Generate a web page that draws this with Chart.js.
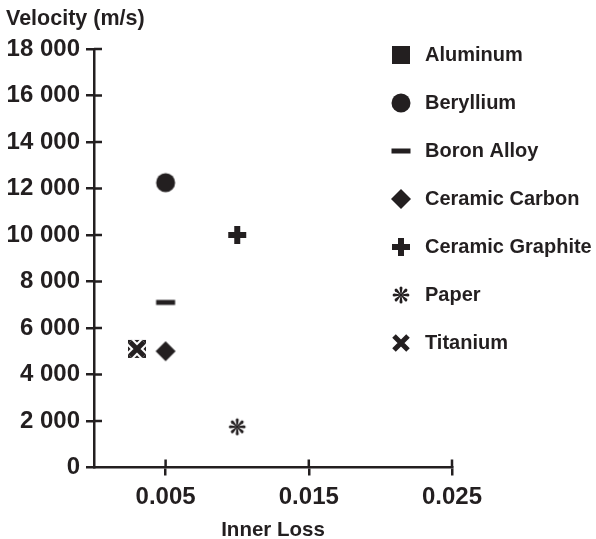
<!DOCTYPE html>
<html>
<head>
<meta charset="utf-8">
<script src="https://cdn.jsdelivr.net/npm/chart.js@4/dist/chart.umd.min.js"></script>
<style>
  html, body { margin: 0; padding: 0; background: #fff; }
  canvas { display: block; }
</style>
</head>
<body>
<canvas id="chart" width="596" height="539"></canvas>
<script>
const materials = ['Aluminum', 'Beryllium', 'Boron Alloy', 'Ceramic Carbon', 'Ceramic Graphite', 'Paper', 'Titanium'];
const innerLoss = [0.003, 0.005, 0.005, 0.005, 0.010, 0.010, 0.003];
const velocity = [5100, 12250, 7100, 5000, 10000, 1750, 5100];
const xTicks = [0.005, 0.015, 0.025];
const yMax = 18000;
const yStep = 2000;

const symbols = ['square', 'circle', 'dash', 'diamond', 'plus', 'asterisk', 'cross'];

const ink = '#231f20';
const family = "'Liberation Sans', Arial, sans-serif";

Chart.defaults.color = ink;
Chart.defaults.font.family = family;

// marker glyphs, used both in the plot and in the legend
function makeSymbol(kind) {
    const s = 26;
    const c = document.createElement('canvas');
    c.width = c.height = s;
    const g = c.getContext('2d');
    g.translate(s / 2, s / 2);
    g.fillStyle = ink;
    g.strokeStyle = ink;
    switch (kind) {
        case 'square':
            g.fillRect(-9, -9, 18, 18);
            break;
        case 'circle':
            g.beginPath();
            g.arc(0, 0, 9.5, 0, Math.PI * 2);
            g.fill();
            break;
        case 'dash':
            g.fillRect(-9.5, -2.5, 19, 5);
            break;
        case 'diamond':
            g.beginPath();
            g.moveTo(0, -10);
            g.lineTo(10, 0);
            g.lineTo(0, 10);
            g.lineTo(-10, 0);
            g.closePath();
            g.fill();
            break;
        case 'plus':
            g.fillRect(-9, -3, 18, 6);
            g.fillRect(-3, -9, 6, 18);
            break;
        case 'asterisk':
            for (let i = 0; i < 8; i++) {
                g.save();
                g.rotate(i * Math.PI / 4 - Math.PI / 2);
                g.beginPath();
                g.moveTo(0, -0.4);
                g.lineTo(6.9, -1.5);
                g.arc(6.9, 0, 1.5, -Math.PI / 2, Math.PI / 2);
                g.lineTo(0, 0.4);
                g.closePath();
                g.fill();
                g.restore();
            }
            break;
        case 'cross':
            g.beginPath();
            g.moveTo(-7, -7); g.lineTo(7, 7);
            g.moveTo(7, -7); g.lineTo(-7, 7);
            g.strokeStyle = '#fff';
            g.lineWidth = 9;
            g.stroke();
            g.strokeStyle = ink;
            g.lineWidth = 5;
            g.stroke();
            break;
    }
    return c;
}

// Titanium sits on top of Aluminum in the reference
const datasets = materials.map((name, i) => ({
    label: name,
    data: [{ x: innerLoss[i], y: velocity[i] }],
    pointStyle: makeSymbol(symbols[i]),
    pointRadius: 9,
    backgroundColor: ink,
    borderColor: ink,
    order: symbols[i] === 'cross' ? -1 : 0
}));

function thousands(v) {
    return String(v).replace(/\B(?=(\d{3})+(?!\d))/g, ' ');
}

// ticks in the reference cross the axis line, so draw the inner half too
const innerTicks = {
    id: 'innerTicks',
    beforeDatasetsDraw(chart) {
        const { ctx, chartArea, scales: { x, y } } = chart;
        ctx.save();
        ctx.strokeStyle = ink;
        ctx.lineWidth = 2.5;
        ctx.beginPath();
        x.ticks.forEach(t => {
            const px = x.getPixelForValue(t.value);
            ctx.moveTo(px, chartArea.bottom);
            ctx.lineTo(px, chartArea.bottom - 8);
        });
        y.ticks.forEach(t => {
            if (t.value === 0) return;
            const py = y.getPixelForValue(t.value);
            ctx.moveTo(chartArea.left, py);
            ctx.lineTo(chartArea.left + 8, py);
        });
        ctx.stroke();
        ctx.restore();
    }
};

// the legend sits over the upper right of the plot, not beside it
const legendSpot = {
    id: 'legendSpot',
    afterLayout(chart) {
        const l = chart.legend;
        l.left = 359;
        l.top = 17;
        l.right = chart.width;
        l.bottom = chart.height;
        l.width = l.right - l.left;
        l.height = l.bottom - l.top;
    }
};

new Chart(document.getElementById('chart'), {
    type: 'scatter',
    data: { datasets },
    options: {
        responsive: false,
        animation: false,
        layout: {
            padding: { left: 6, right: 143, top: 0, bottom: 0 }
        },
        scales: {
            x: {
                type: 'linear',
                min: 0,
                max: xTicks[xTicks.length - 1],
                afterBuildTicks: scale => {
                    scale.ticks = xTicks.map(value => ({ value }));
                },
                afterFit: scale => { scale.height = 71.5; },
                border: { display: true, color: ink, width: 2.5 },
                grid: {
                    display: true,
                    drawOnChartArea: false,
                    drawTicks: true,
                    tickLength: 8,
                    color: ink,
                    lineWidth: 2.5
                },
                ticks: {
                    padding: 7,
                    maxRotation: 0,
                    color: ink,
                    font: { size: 24, weight: 'bold' },
                    callback: v => v.toFixed(3)
                },
                title: {
                    display: true,
                    text: 'Inner Loss',
                    color: ink,
                    font: { size: 20.5, weight: 'bold', lineHeight: 1 },
                    padding: { top: 0, bottom: -2 }
                }
            },
            y: {
                type: 'linear',
                min: 0,
                max: yMax,
                afterFit: scale => { scale.width = 88; },
                border: { display: true, color: ink, width: 2.5 },
                grid: {
                    display: true,
                    drawOnChartArea: false,
                    drawTicks: true,
                    tickLength: 8,
                    color: ink,
                    lineWidth: 2.5
                },
                ticks: {
                    stepSize: yStep,
                    padding: 6,
                    color: ink,
                    font: { size: 24, weight: 'bold' },
                    callback: thousands
                }
            }
        },
        plugins: {
            title: {
                display: true,
                text: 'Velocity (m/s)',
                align: 'start',
                color: ink,
                font: { size: 21.5, weight: 'bold' },
                padding: { top: 6, bottom: 17.2 }
            },
            legend: {
                display: true,
                position: 'right',
                align: 'start',
                maxWidth: 1,
                labels: {
                    usePointStyle: true,
                    pointStyleWidth: 28,
                    padding: 28,
                    color: ink,
                    font: { size: 20, weight: 'bold' },
                    sort: (a, b) => a.datasetIndex - b.datasetIndex
                }
            },
            tooltip: { enabled: false }
        }
    },
    plugins: [innerTicks, legendSpot]
});
</script>
</body>
</html>
